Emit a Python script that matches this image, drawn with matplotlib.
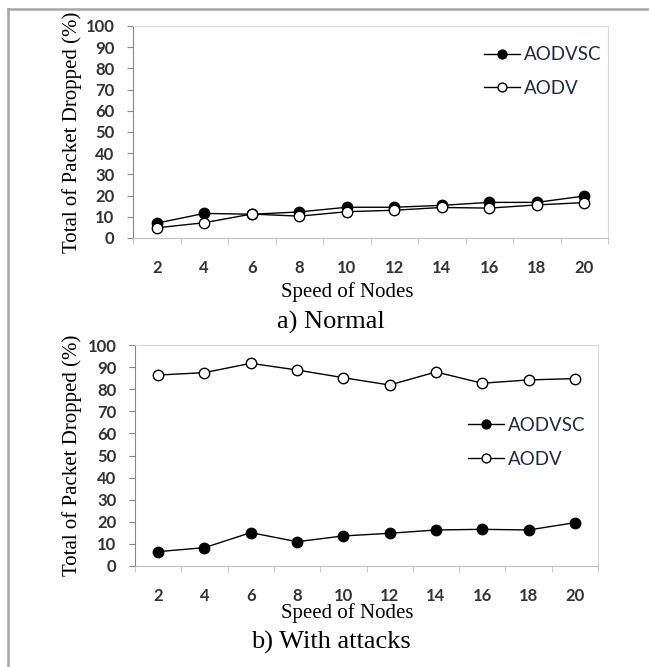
import matplotlib.pyplot as plt
from matplotlib.lines import Line2D

# valores
speeds = ['2', '4', '6', '8', '10', '12', '14', '16', '18', '20']
normal_aodvsc = [7.0, 11.6, 11.2, 12.3, 14.5, 14.5, 15.4, 16.8, 16.8, 19.8]
normal_aodv = [4.8, 7.2, 11.3, 10.3, 12.4, 13.1, 14.4, 14.1, 15.6, 16.7]
attack_aodvsc = [6.5, 8.3, 15.1, 11.0, 13.6, 14.8, 16.3, 16.6, 16.3, 19.6]
attack_aodv = [86.4, 87.5, 91.7, 88.7, 85.2, 81.9, 87.8, 82.7, 84.2, 84.8]
y_ticks = [0, 10, 20, 30, 40, 50, 60, 70, 80, 90, 100]

W, H = 649, 667
fig = plt.figure(figsize=(W / 100, H / 100), dpi=100)

serif = 'Liberation Serif'
sans = 'Lato'
tick_color = '#333333'


def px(x0, y0, x1, y1):
    # retangulo em pixels -> fracao da figura
    return [x0 / W, 1 - y1 / H, (x1 - x0) / W, (y1 - y0) / H]


def draw_panel(rect, aodvsc, aodv, leg_anchor, title, xlab_y, title_y):
    ax = fig.add_axes(px(*rect))
    x = list(range(len(speeds)))
    ax.plot(x, aodvsc, color='black', lw=1.0, marker='o', ms=7.5,
            mfc='black', mec='black', mew=1, label='AODVSC', clip_on=False)
    ax.plot(x, aodv, color='black', lw=1.0, marker='o', ms=7.5,
            mfc='white', mec='black', mew=1, label='AODV', clip_on=False)
    ax.set_xlim(-0.5, len(speeds) - 0.5)
    ax.set_ylim(0, 100)
    ax.set_yticks(y_ticks)
    ax.set_yticklabels([str(v) for v in y_ticks], fontfamily=sans,
                       fontweight='bold', fontsize=12, color=tick_color)
    ax.set_xticks(x)
    ax.set_xticklabels(speeds, fontfamily=sans, fontweight='bold',
                       fontsize=12, color=tick_color)
    ax.set_xticks([i - 0.5 for i in range(len(speeds) + 1)], minor=True)
    ax.tick_params(axis='x', which='major', length=0, pad=16)
    ax.tick_params(axis='x', which='minor', length=4.3, color='#bfbfbf',
                   direction='out')
    ax.tick_params(axis='y', length=4.3, color='#888888', pad=9)
    for s in ['top', 'right']:
        ax.spines[s].set_color('#d9d9d9')
    ax.spines['left'].set_color('#888888')
    ax.spines['bottom'].set_color('#bfbfbf')
    ax.set_ylabel('Total of Packet Dropped (%)', fontfamily=serif,
                  fontsize=15, va='center')
    ax.yaxis.set_label_coords((72 - rect[0]) / (rect[2] - rect[0]), 0.5)
    leg = ax.legend(loc='upper left', bbox_to_anchor=leg_anchor,
                    frameon=False, borderpad=0, borderaxespad=0,
                    handlelength=1.9, handletextpad=0.25, labelspacing=0.9,
                    markerscale=0.85, prop={'family': sans, 'size': 13.5})
    for t in leg.get_texts():
        t.set_color('#1f2a44')
    fig.text(347 / W, 1 - xlab_y / H, 'Speed of Nodes', fontfamily=serif,
             fontsize=15, ha='center', va='center')
    fig.text(331 / W, 1 - title_y / H, title, fontfamily=serif,
             fontsize=19, ha='center', va='center')
    return ax


draw_panel((133, 26, 608, 238), normal_aodvsc, normal_aodv,
           (0.739, 0.905), 'a) Normal', 292, 322)
draw_panel((135, 345, 598, 566), attack_aodvsc, attack_aodv,
           (0.719, 0.675), 'b) With attacks', 613, 642)

# moldura cinza (topo e esquerda)
fig.add_artist(Line2D([7.5 / W, 1], [1 - 8.5 / H, 1 - 8.5 / H],
                      transform=fig.transFigure, color='#a6a6a6', lw=1.8))
fig.add_artist(Line2D([7.5 / W, 7.5 / W], [0, 1 - 8.5 / H],
                      transform=fig.transFigure, color='#a6a6a6', lw=1.8))

fig.savefig('out.png', dpi=100)
